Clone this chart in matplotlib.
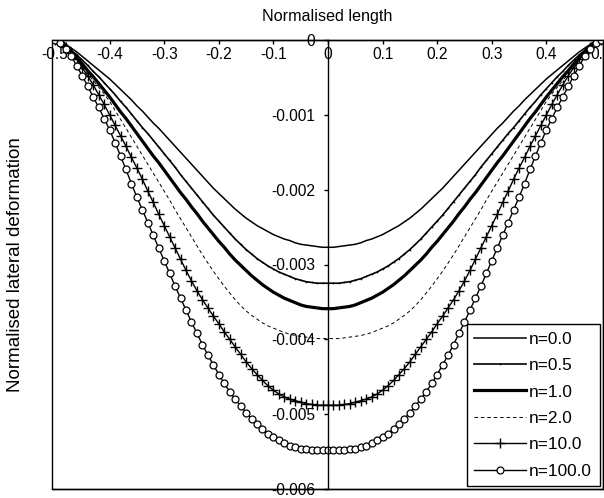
import numpy as np
import matplotlib
matplotlib.use("Agg")
import matplotlib.pyplot as plt
from matplotlib.ticker import FuncFormatter

plt.rcParams['font.family'] = ['Liberation Sans', 'DejaVu Sans']
plt.rcParams['axes.unicode_minus'] = False

# ---------------- data ----------------
# normalised length positions (step 0.01 from -0.5 to 0.5)
x_pos = np.linspace(-0.5, 0.5, 101)

# downward lateral deformation magnitude, in units of 1e-3
defl_n0 = [0.00,0.02,0.06,0.11,0.16,0.22,0.28,0.34,0.40,0.46,0.52,0.59,0.66,0.73,0.80,0.88,0.95,1.03,1.11,1.18,
           1.26,1.34,1.42,1.50,1.58,1.66,1.74,1.82,1.90,1.98,2.05,2.12,2.19,2.26,2.32,2.38,2.43,2.48,2.52,2.56,
           2.60,2.63,2.66,2.68,2.71,2.73,2.74,2.75,2.76,2.77,2.77,
           2.77,2.76,2.75,2.74,2.73,2.71,2.68,2.66,2.63,2.60,2.56,2.52,2.48,2.43,2.38,2.32,2.26,2.19,2.12,2.05,
           1.98,1.90,1.82,1.74,1.66,1.58,1.50,1.42,1.34,1.26,1.18,1.11,1.03,0.95,0.88,0.80,0.73,0.66,0.59,0.52,
           0.46,0.40,0.34,0.28,0.22,0.16,0.11,0.06,0.02,0.00]
defl_n05 = [0.00,0.03,0.08,0.14,0.20,0.27,0.34,0.42,0.49,0.57,0.65,0.73,0.82,0.90,0.99,1.08,1.17,1.25,1.34,1.43,
            1.52,1.61,1.70,1.80,1.89,1.98,2.07,2.16,2.25,2.34,2.42,2.50,2.58,2.66,2.73,2.80,2.86,2.92,2.97,3.02,
            3.06,3.10,3.13,3.16,3.19,3.21,3.23,3.24,3.25,3.25,3.25,
            3.25,3.25,3.24,3.23,3.21,3.19,3.16,3.13,3.10,3.06,3.02,2.97,2.92,2.86,2.80,2.73,2.66,2.58,2.50,2.42,
            2.34,2.25,2.16,2.07,1.98,1.89,1.80,1.70,1.61,1.52,1.43,1.34,1.25,1.17,1.08,0.99,0.90,0.82,0.73,0.65,
            0.57,0.49,0.42,0.34,0.27,0.20,0.14,0.08,0.03,0.00]
defl_n1 = [0.00,0.03,0.09,0.16,0.24,0.32,0.41,0.49,0.58,0.67,0.76,0.86,0.96,1.05,1.15,1.25,1.35,1.45,1.55,1.64,
           1.74,1.84,1.94,2.04,2.13,2.23,2.32,2.42,2.51,2.60,2.69,2.77,2.86,2.94,3.01,3.08,3.15,3.21,3.27,3.32,
           3.37,3.41,3.45,3.48,3.51,3.54,3.56,3.57,3.58,3.59,3.59,
           3.59,3.58,3.57,3.56,3.54,3.51,3.48,3.45,3.41,3.37,3.32,3.27,3.21,3.15,3.08,3.01,2.94,2.86,2.77,2.69,
           2.60,2.51,2.42,2.32,2.23,2.13,2.04,1.94,1.84,1.74,1.64,1.55,1.45,1.35,1.25,1.15,1.05,0.96,0.86,0.76,
           0.67,0.58,0.49,0.41,0.32,0.24,0.16,0.09,0.03,0.00]
defl_n2 = [0.00,0.03,0.10,0.18,0.27,0.36,0.45,0.54,0.63,0.72,0.82,0.94,1.06,1.18,1.30,1.42,1.54,1.66,1.78,1.90,
           2.02,2.14,2.27,2.39,2.51,2.63,2.75,2.87,2.98,3.09,3.19,3.29,3.38,3.47,3.55,3.62,3.68,3.73,3.78,3.82,
           3.85,3.88,3.91,3.93,3.95,3.96,3.97,3.98,3.99,3.99,3.99,
           3.99,3.99,3.98,3.97,3.96,3.95,3.93,3.91,3.88,3.85,3.82,3.78,3.73,3.68,3.62,3.55,3.47,3.38,3.29,3.19,
           3.09,2.98,2.87,2.75,2.63,2.51,2.39,2.27,2.14,2.02,1.90,1.78,1.66,1.54,1.42,1.30,1.18,1.06,0.94,0.82,
           0.72,0.63,0.54,0.45,0.36,0.27,0.18,0.10,0.03,0.00]
defl_n10 = [0.00,0.03,0.09,0.17,0.26,0.37,0.48,0.60,0.73,0.86,1.00,1.14,1.28,1.42,1.57,1.71,1.86,2.02,2.17,2.33,
            2.48,2.63,2.78,2.93,3.08,3.22,3.35,3.47,3.58,3.69,3.79,3.90,4.00,4.10,4.20,4.30,4.39,4.47,4.55,4.62,
            4.68,4.73,4.77,4.80,4.82,4.84,4.86,4.87,4.88,4.88,4.88,
            4.88,4.88,4.87,4.86,4.84,4.82,4.80,4.77,4.73,4.68,4.62,4.55,4.47,4.39,4.30,4.20,4.10,4.00,3.90,3.79,
            3.69,3.58,3.47,3.35,3.22,3.08,2.93,2.78,2.63,2.48,2.33,2.17,2.02,1.86,1.71,1.57,1.42,1.28,1.14,1.00,
            0.86,0.73,0.60,0.48,0.37,0.26,0.17,0.09,0.03,0.00]
defl_n100 = [0.00,0.04,0.12,0.22,0.35,0.48,0.62,0.76,0.90,1.05,1.20,1.37,1.55,1.73,1.92,2.10,2.27,2.44,2.61,2.78,
             2.95,3.12,3.29,3.45,3.61,3.77,3.92,4.07,4.21,4.34,4.47,4.59,4.70,4.80,4.89,4.98,5.06,5.13,5.20,5.26,
             5.31,5.35,5.39,5.42,5.44,5.46,5.47,5.48,5.48,5.48,5.48,
             5.48,5.48,5.48,5.47,5.46,5.44,5.42,5.39,5.35,5.31,5.26,5.20,5.13,5.06,4.98,4.89,4.80,4.70,4.59,4.47,
             4.34,4.21,4.07,3.92,3.77,3.61,3.45,3.29,3.12,2.95,2.78,2.61,2.44,2.27,2.10,1.92,1.73,1.55,1.37,1.20,
             1.05,0.90,0.76,0.62,0.48,0.35,0.22,0.12,0.04,0.00]

series_labels = ['n=0.0', 'n=0.5', 'n=1.0', 'n=2.0', 'n=10.0', 'n=100.0']
series_values = [defl_n0, defl_n05, defl_n1, defl_n2, defl_n10, defl_n100]

x_ticks = [-0.5, -0.4, -0.3, -0.2, -0.1, 0, 0.1, 0.2, 0.3, 0.4, 0.5]
y_ticks = [0, -0.001, -0.002, -0.003, -0.004, -0.005, -0.006]

for v in series_values:
    assert len(v) == len(x_pos), len(v)

# ---------------- styles ----------------
styles = [
    dict(color='black', lw=1.1),
    dict(color='black', lw=1.2, marker='.', ms=1.6, mew=0.4),
    dict(color='black', lw=2.3),
    dict(color='black', lw=0.7, ls=(0, (3.6, 3.0))),
    dict(color='black', lw=1.0, marker='+', ms=7, mew=1.0),
    dict(color='black', lw=1.0, marker='o', ms=5, mfc='white', mew=0.9),
]

fig = plt.figure(figsize=(6.04, 4.98), dpi=100)
ax = fig.add_axes([52/604, 1 - 489/498, 551/604, 449/498])

for lab, vals, st in zip(series_labels, series_values, styles):
    ax.plot(x_pos, -np.asarray(vals) / 1000.0, label=lab, **st)

ax.set_xlim(-0.5055, 0.5037)
ax.set_ylim(-0.006, 0)

# frame
ax.patch.set_edgecolor('black')
ax.patch.set_linewidth(1.0)
for s in ['top', 'bottom', 'right', 'left']:
    ax.spines[s].set_linewidth(1.0)
    ax.spines[s].set_color('black')
ax.spines['left'].set_position(('data', 0))

# x axis on top (y = 0) with labels below the line
ax.set_xticks(x_ticks)
ax.xaxis.set_major_formatter(FuncFormatter(lambda v, p: '0' if abs(v) < 1e-12 else f'{v:g}'))
ax.tick_params(axis='x', top=True, bottom=False, labeltop=True, labelbottom=False,
               direction='in', length=3, width=1, pad=-15.5, labelsize=11.2)

# y axis at x = 0
ax.set_yticks(y_ticks)
ax.yaxis.set_major_formatter(FuncFormatter(lambda v, p: '0' if abs(v) < 1e-12 else f'{v:.3f}'))
ax.tick_params(axis='y', left=True, right=False, direction='out', length=3, width=1,
               pad=6, labelsize=11.2)

ax.set_title('Normalised length', fontsize=11.6, pad=13.5)
ax.set_ylabel('Normalised lateral deformation', fontsize=13.5)
ax.yaxis.set_label_coords(-0.05, 0.5)

leg = ax.legend(loc='lower right', mode='expand',
                bbox_to_anchor=((467 - 52) / 551, 3 / 449, 133 / 551, 0.4),
                bbox_transform=ax.transAxes,
                borderaxespad=0, fontsize=12.4, frameon=True, fancybox=False, framealpha=1,
                edgecolor='black', handlelength=3.0, handletextpad=0.15, borderpad=0.42,
                labelspacing=0.66)
leg.get_frame().set_linewidth(1.0)

fig.savefig('out.png', dpi=100)
